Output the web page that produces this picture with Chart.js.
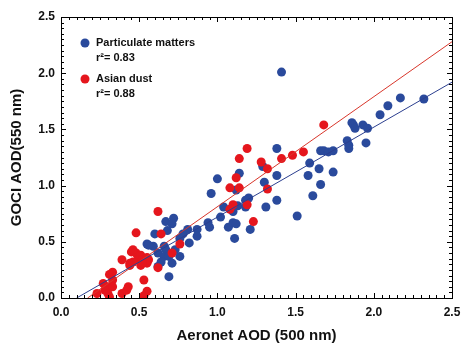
<!DOCTYPE html>
<html>
<head>
<meta charset="utf-8">
<script src="https://cdn.jsdelivr.net/npm/chart.js@4/dist/chart.umd.min.js"></script>
<style>
  html, body { margin: 0; padding: 0; background: #fff; }
  #wrap { width: 469px; height: 353px; }
</style>
</head>
<body>
<div id="wrap"><canvas id="chart"></canvas></div>
<script>
// particulate matters (blue)
const pmX = [1.41, 2.17, 2.32, 2.09, 2.04, 1.86, 1.87, 1.88, 1.93, 1.96, 1.95, 1.83, 1.84, 1.84, 1.66, 1.68, 1.71, 1.74, 1.59, 1.65, 1.58, 1.74, 1.66, 1.61, 1.51,
  1.38, 1.29, 1.14, 1.00, 1.12, 1.30, 1.38, 0.96, 1.20, 1.18, 1.38, 1.04, 1.13, 1.18, 1.31, 1.10, 1.02, 0.94, 0.95, 1.07, 1.10, 1.12, 1.21, 1.11,
  0.72, 0.67, 0.71, 0.68, 0.60, 0.81, 0.87, 0.87, 0.78, 0.76, 0.82, 0.55, 0.59, 0.66, 0.67, 0.73, 0.62, 0.66, 0.69, 0.76, 0.64, 0.71, 0.62, 0.56, 0.69];
const pmY = [2.01, 1.78, 1.77, 1.71, 1.63, 1.56, 1.54, 1.51, 1.54, 1.51, 1.38, 1.40, 1.36, 1.33, 1.31, 1.31, 1.30, 1.31, 1.20, 1.15, 1.09, 1.12, 1.01, 0.91, 0.73,
  1.33, 1.17, 1.11, 1.06, 0.96, 1.03, 1.09, 0.93, 0.89, 0.87, 0.87, 0.81, 0.82, 0.81, 0.81, 0.77, 0.72, 0.67, 0.63, 0.63, 0.67, 0.66, 0.61, 0.53,
  0.71, 0.68, 0.66, 0.60, 0.57, 0.61, 0.61, 0.55, 0.57, 0.53, 0.49, 0.48, 0.46, 0.46, 0.43, 0.43, 0.40, 0.37, 0.37, 0.37, 0.32, 0.31, 0.28, 0.47, 0.19];

// asian dust (red)
const dustX = [1.68, 1.55, 1.48, 1.41, 1.19, 1.14, 1.28, 1.32, 1.12, 1.14, 1.08, 1.32, 1.10, 1.08, 1.19, 1.23,
  0.62, 0.48, 0.64, 0.76, 0.71, 0.62,
  0.45, 0.48, 0.51, 0.49, 0.52, 0.55, 0.39, 0.44, 0.51, 0.55, 0.44, 0.33, 0.31, 0.33, 0.27, 0.30, 0.28, 0.33, 0.30, 0.31, 0.23, 0.39, 0.42, 0.43, 0.53, 0.53, 0.55, 0.46, 0.56, 0.52, 0.46];
const dustY = [1.54, 1.30, 1.27, 1.24, 1.33, 1.24, 1.21, 1.15, 1.07, 0.98, 0.98, 0.97, 0.83, 0.79, 0.83, 0.68,
  0.77, 0.58, 0.57, 0.48, 0.40, 0.27,
  0.41, 0.40, 0.38, 0.34, 0.34, 0.36, 0.34, 0.31, 0.29, 0.31, 0.29, 0.23, 0.21, 0.16, 0.13, 0.10, 0.07, 0.10, 0.04, 0.01, 0.04, 0.04, 0.07, 0.10, 0.16, 0.02, 0.06, 0.43, 0.34, 0.31, 0.32];

// regression lines (end points)
const pmFitX = [0.10, 2.50];
const pmFitY = [0.00, 1.92];
const dustFitX = [0.17, 2.50];
const dustFitY = [0.00, 2.28];

const legendLabels = ['Particulate matters', 'Asian dust'];
const legendR2 = ['r\u00b2= 0.83', 'r\u00b2= 0.88'];

const BLUE = '#2a4a9c';
const RED = '#e5161d';
const FONT = "'Liberation Sans', Arial, sans-serif";

const toPts = (xs, ys) => xs.map((x, i) => ({ x: x, y: ys[i] }));

// box with inward ticks on all four sides + legend
const frame = {
  id: 'frame',
  afterDatasetsDraw(chart) {
    const { ctx, chartArea: a, scales } = chart;
    const xs = scales.x, ys = scales.y;
    ctx.save();
    ctx.strokeStyle = '#000';
    ctx.lineWidth = 1;
    ctx.strokeRect(a.left + 0.5, a.top + 0.5, a.right - a.left, a.bottom - a.top);
    ctx.beginPath();
    for (let i = 0; i <= 50; i++) {
      const v = i * 0.05;
      const len = i % 10 === 0 ? 5 : 3;
      const px = Math.round(xs.getPixelForValue(v)) + 0.5;
      ctx.moveTo(px, a.bottom); ctx.lineTo(px, a.bottom - len);
      ctx.moveTo(px, a.top); ctx.lineTo(px, a.top + len);
      const py = Math.round(ys.getPixelForValue(v)) + 0.5;
      ctx.moveTo(a.left, py); ctx.lineTo(a.left + len, py);
      ctx.moveTo(a.right, py); ctx.lineTo(a.right - len, py);
    }
    ctx.stroke();

    // legend
    const colors = [BLUE, RED];
    const rows = [43, 79];
    ctx.font = 'bold 11px ' + FONT;
    ctx.textBaseline = 'middle';
    ctx.textAlign = 'left';
    rows.forEach((y, i) => {
      ctx.fillStyle = colors[i];
      ctx.beginPath();
      ctx.arc(85, y, 4.5, 0, Math.PI * 2);
      ctx.fill();
      ctx.fillStyle = '#111';
      ctx.fillText(legendLabels[i], 96, y);
      ctx.fillText(legendR2[i], 96, y + 15);
    });
    ctx.restore();
  }
};

new Chart(document.getElementById('chart'), {
  type: 'scatter',
  data: {
    datasets: [
      { label: 'PM fit', type: 'line', data: toPts(pmFitX, pmFitY), borderColor: '#2c3f8f', borderWidth: 1, pointRadius: 0, order: 0 },
      { label: 'Dust fit', type: 'line', data: toPts(dustFitX, dustFitY), borderColor: '#d8362b', borderWidth: 1, pointRadius: 0, order: 0 },
      { label: legendLabels[1], data: toPts(dustX, dustY), backgroundColor: RED, borderWidth: 0, pointRadius: 4.5, order: 1 },
      { label: legendLabels[0], data: toPts(pmX, pmY), backgroundColor: BLUE, borderWidth: 0, pointRadius: 4.5, order: 2 }
    ]
  },
  options: {
    responsive: true,
    maintainAspectRatio: false,
    animation: false,
    layout: { padding: { top: 17, right: 17, left: 0, bottom: 0 } },
    plugins: { legend: { display: false }, tooltip: { enabled: false } },
    scales: {
      x: {
        type: 'linear', min: 0, max: 2.5,
        afterFit: s => { s.height = 55; },
        grid: { display: false, drawTicks: false },
        border: { display: false },
        ticks: { stepSize: 0.5, padding: 7, color: '#111', font: { family: FONT, size: 12, weight: 'bold' }, callback: v => v.toFixed(1) },
        title: { display: true, text: 'Aeronet AOD (500 nm)', color: '#111', font: { family: FONT, size: 15, weight: 'bold' }, padding: { top: 4, bottom: 8 } }
      },
      y: {
        type: 'linear', min: 0, max: 2.5,
        afterFit: s => { s.width = 61; },
        grid: { display: false, drawTicks: false },
        border: { display: false },
        ticks: { stepSize: 0.5, padding: 6, color: '#111', font: { family: FONT, size: 12, weight: 'bold' }, callback: v => v.toFixed(1) },
        title: { display: true, text: 'GOCI AOD(550 nm)', color: '#111', font: { family: FONT, size: 15, weight: 'bold' }, padding: { top: 8, bottom: 4 } }
      }
    }
  },
  plugins: [frame]
});
</script>
</body>
</html>
